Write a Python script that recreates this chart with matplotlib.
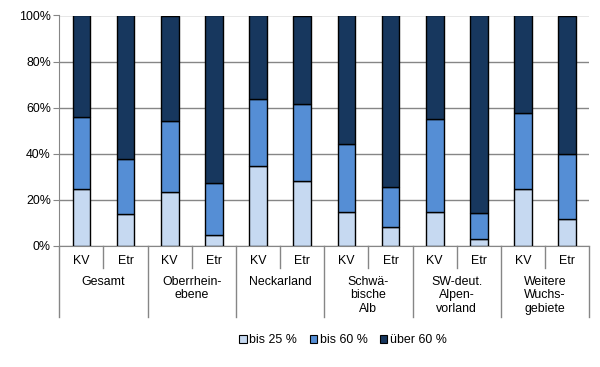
import matplotlib
matplotlib.use("Agg")
import matplotlib.pyplot as plt
from matplotlib.transforms import blended_transform_factory
from matplotlib.patches import Patch
import numpy as np

plt.rcParams['font.family'] = ['Liberation Sans', 'DejaVu Sans']

groups = ["Gesamt", "Oberrhein-\nebene", "Neckarland", "Schwä-\nbische\nAlb",
          "SW-deut.\nAlpen-\nvorland", "Weitere\nWuchs-\ngebiete"]
sub_labels = ["KV", "Etr"] * 6
series_names = ["bis 25 %", "bis 60 %", "über 60 %"]
bis25 = [24.6, 13.7, 23.3, 4.6, 34.5, 28.0, 14.6, 8.1, 14.6, 2.9, 24.6, 11.6]
bis60 = [31.5, 23.9, 31.0, 22.6, 29.1, 33.7, 29.7, 17.3, 40.7, 11.3, 32.9, 28.4]
ueber60 = [100 - a - b for a, b in zip(bis25, bis60)]
colors = ["#C6D9F1", "#558ED5", "#17375E"]

FS = 8.9

fig = plt.figure(figsize=(6.0, 3.67), dpi=100)
ax = fig.add_axes([59.3/600, 1-246/367, (589.3-59.3)/600, (246-15.5)/367])

x = np.arange(len(bis25))
bottom = np.zeros(len(x))
for vals, c, name in zip([bis25, bis60, ueber60], colors, series_names):
    ax.bar(x, vals, width=0.4, bottom=bottom, color=c, edgecolor="black",
           linewidth=1.0, label=name, zorder=3)
    bottom += np.array(vals)

ax.set_xlim(-0.5, len(x) - 0.5)
ax.set_ylim(0, 100)
ax.set_yticks(np.arange(0, 101, 20))
ax.set_yticklabels([f"{v}%" for v in range(0, 101, 20)], fontsize=FS)
ax.yaxis.grid(True, color="#868686", linewidth=1.0, zorder=0)
ax.set_xticks([])
for s in ["top", "right"]:
    ax.spines[s].set_visible(False)
ax.spines["left"].set_color("#868686")
ax.spines["bottom"].set_color("#868686")
ax.tick_params(axis="y", length=4, color="#868686", pad=2)

trans = blended_transform_factory(ax.transData, ax.transAxes)
h = 230.5
for k in range(len(x) + 1):
    xb = k - 0.5
    if k % 2 == 0:
        yend = -(317 - 246) / h
    else:
        yend = -(268 - 246) / h
    ax.plot([xb, xb], [0, yend], transform=trans, color="#868686",
            linewidth=1.0, clip_on=False)

for i, lab in enumerate(sub_labels):
    ax.text(i, -(261 - 246) / h, lab, transform=trans, ha="center",
            va="center", fontsize=FS)
for g, name in enumerate(groups):
    ax.text(2 * g + 0.5, -(276 - 246) / h, name, transform=trans,
            ha="center", va="top", fontsize=FS, linespacing=1.15)

handles = [Patch(facecolor=c, edgecolor="black", linewidth=0.8) for c in colors]
fig.legend(handles, series_names, loc="center", bbox_to_anchor=(343/600, 1-340/367),
           ncol=3, frameon=False, fontsize=FS, handlelength=0.6, handleheight=0.6,
           handletextpad=0.2, columnspacing=1.0)

fig.savefig("out.png", dpi=100)
